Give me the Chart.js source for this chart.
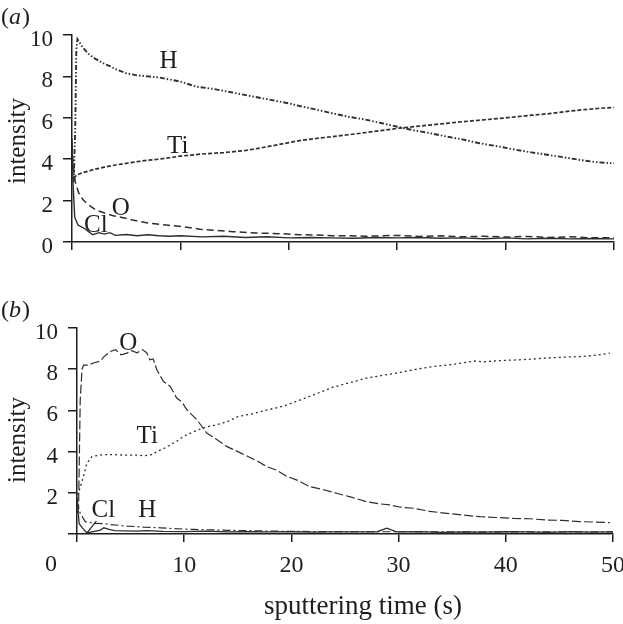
<!DOCTYPE html>
<html><head><meta charset="utf-8">
<script src="https://cdn.jsdelivr.net/npm/chart.js@4.4.1/dist/chart.umd.min.js"></script>
<style>
html,body{margin:0;padding:0;background:#fff;width:623px;height:624px;overflow:hidden}
#wa{position:absolute;left:0;top:0;width:623px;height:270px}
#wb{position:absolute;left:0;top:270px;width:623px;height:354px}
</style></head><body>
<div id="wa"><canvas id="ca" width="623" height="270"></canvas></div>
<div id="wb"><canvas id="cb" width="623" height="354"></canvas></div>
<script>
// ---------- Data ----------
const xTicks = [0, 10, 20, 30, 40, 50];
const yTicks = [0, 2, 4, 6, 8, 10];
const xTitle = 'sputtering time (s)';
const yTitle = 'intensity';

// Panel (a)
const aH_x = [0.15,0.3,0.4,0.5,1,1.5,2,3,3.5,4,5,6,7,8,9,10,11.5,13,15,16.5,18,20,21,22.5,24,25.5,27,28.5,30,31.5,33,34.5,36,37.5,39.5,41,42.5,44,45.5,47,48.5,50];
const aH_y = [2.9,5.5,9.3,9.8,9.4,9.1,8.9,8.6,8.5,8.35,8.15,8.05,8.0,7.95,7.85,7.75,7.5,7.4,7.2,7.05,6.9,6.7,6.57,6.4,6.22,6.05,5.92,5.75,5.57,5.4,5.26,5.1,4.96,4.78,4.6,4.45,4.32,4.2,4.08,3.95,3.85,3.8];
const aTi_x = [0.1,0.5,1,2,3,4,5,6,7,8,9,10,12,14,16,18,20,21,22.5,24,25.5,27,28.5,30,31.5,33,34.5,36,37.5,39.5,41,42.5,44,45.5,47,48.5,50];
const aTi_y = [3.1,3.25,3.35,3.5,3.62,3.72,3.8,3.88,3.95,4.0,4.07,4.15,4.25,4.32,4.42,4.6,4.8,4.9,5.0,5.09,5.18,5.28,5.38,5.49,5.57,5.65,5.73,5.81,5.88,5.97,6.05,6.13,6.2,6.3,6.38,6.45,6.5];
const aO_x = [0.05,0.15,0.3,0.6,1.0,1.5,2.2,3,3.8,4.5,5.6,7,8.7,10.2,11.8,13.3,14.8,16.4,17.9,19.5,21,22.5,24,25.6,27,28.7,30,32,34,36,38,40,42,44,46,48,50];
const aO_y = [4.2,3.6,2.9,2.4,2.05,1.8,1.55,1.4,1.27,1.2,1.06,0.92,0.82,0.74,0.62,0.56,0.5,0.45,0.42,0.4,0.35,0.34,0.3,0.3,0.28,0.3,0.32,0.27,0.3,0.25,0.28,0.24,0.27,0.22,0.25,0.2,0.2];
const aCl_x = [0,0.1,0.25,0.55,1,1.3,1.9,2.5,3,3.5,4,5,6,7,8,9,10,12,14,16,18,20,22,24,26,28,30,32,34,36,38,40,42,44,46,48,50];
const aCl_y = [5.0,2.8,1.2,0.82,0.7,0.6,0.35,0.45,0.38,0.45,0.32,0.36,0.3,0.35,0.3,0.28,0.3,0.25,0.28,0.22,0.25,0.2,0.22,0.2,0.18,0.22,0.2,0.22,0.18,0.2,0.16,0.2,0.15,0.18,0.15,0.17,0.15];

// Panel (b)
const bO_x = [0,0.15,0.3,0.47,0.62,1,1.55,2.2,2.5,3.1,3.6,4.1,4.66,5.1,5.6,6.1,6.5,6.8,7.1,7.45,8.07,8.7,9.3,9.8,10.25,11.2,12.1,13,14,15,15.8,16.8,17.7,18.6,19.6,20.6,21.7,23,24.2,25.5,27,28.3,29.2,30.2,31.4,32.9,34.5,36,37.6,39.1,40.7,42.2,43.8,45.3,46.9,48.3,49.7];
const bO_y = [1.0,1.33,6.5,8.0,8.2,8.2,8.3,8.4,8.6,8.86,8.95,8.7,8.78,8.9,8.8,8.95,8.8,8.46,8.5,7.97,7.4,7.16,6.6,6.4,6.03,5.54,4.9,4.6,4.24,4.0,3.8,3.55,3.27,3.1,2.79,2.6,2.3,2.15,1.98,1.8,1.57,1.46,1.41,1.3,1.25,1.1,1.0,0.92,0.84,0.8,0.76,0.74,0.68,0.66,0.6,0.58,0.55];
const bTi_x = [0,0.15,0.6,0.93,1.4,2,2.5,3.5,4.5,5.5,6.2,7,7.45,8.1,8.7,9.3,9.9,10.6,11.3,12.1,13,14,15,16.5,18,19.5,20.8,22.3,23.9,25.5,27,28.5,30.1,31.7,33.2,34.8,36.3,37.1,37.9,39.5,41,42.5,44,45.7,47.2,48.5,49.7];
const bTi_y = [1.9,2.0,2.8,3.44,3.76,3.82,3.85,3.85,3.83,3.83,3.8,3.85,4.0,4.15,4.33,4.5,4.73,4.9,5.06,5.2,5.3,5.45,5.7,5.85,6.05,6.25,6.5,6.8,7.13,7.35,7.57,7.7,7.84,8.0,8.13,8.22,8.33,8.4,8.36,8.42,8.45,8.49,8.55,8.59,8.62,8.68,8.78];
const bH_x = [0,0.3,0.77,1.55,2.5,3.1,4,4.7,5.5,6.2,7,7.8,9,10.9,12.5,14,16,18,20,22,25,28,31,34,37,40,43,46,50];
const bH_y = [1.6,1.0,0.6,0.52,0.5,0.46,0.42,0.38,0.36,0.33,0.32,0.3,0.26,0.22,0.2,0.18,0.16,0.14,0.13,0.12,0.12,0.11,0.11,0.1,0.1,0.1,0.1,0.1,0.1];
const bCl_x = [0,0.2,0.5,0.93,1.5,2.2,2.5,3,3.5,4.5,5.5,6.5,8,10,12,14,16,18,20,22,24,26,28,28.9,29.8,32,34,36,38,40,42,44,46,48,50];
const bCl_y = [1.8,0.5,0.3,0.05,0.12,0.19,0.3,0.22,0.16,0.15,0.14,0.16,0.13,0.12,0.14,0.1,0.12,0.1,0.11,0.09,0.1,0.1,0.11,0.28,0.1,0.12,0.08,0.1,0.09,0.11,0.1,0.08,0.12,0.09,0.1];

// Curve label anchors (data coordinates)
const aLabels = [['H', 8.9, 8.74], ['Ti', 9.75, 4.64], ['O', 4.5, 1.64], ['Cl', 2.2, 0.82]];
const bLabels = [['O', 4.78, 9.24], ['Ti', 6.55, 4.72], ['Cl', 2.45, 1.12], ['H', 6.55, 1.12]];
// leader line from the "Cl" label to its curve in panel (b) (data coordinates)
const bLeader = [[0.93, 0.05], [1.8, 0.62]];

// ---------- Rendering ----------
const SERIF = '"Liberation Serif", "Times New Roman", Times, serif';
const INK = '#1e1e1e';
const LINE = '#2e2e2e';

function pts(xs, ys) { return xs.map((x, i) => ({ x: x, y: ys[i] })); }
function ds(xs, ys, dash, w) {
  return { data: pts(xs, ys), borderColor: LINE, borderWidth: w, borderDash: dash,
           pointRadius: 0, fill: false, tension: 0, borderCapStyle: 'butt', borderJoinStyle: 'miter' };
}

function textPlugin(cfg) {
  return {
    id: 'textLayer',
    afterDraw(chart) {
      const ctx = chart.ctx, sx = chart.scales.x, sy = chart.scales.y;
      ctx.save();
      ctx.fillStyle = INK;
      ctx.strokeStyle = INK;
      if (cfg.leader) {
        ctx.lineWidth = 1.2;
        ctx.beginPath();
        ctx.moveTo(sx.getPixelForValue(cfg.leader[0][0]), sy.getPixelForValue(cfg.leader[0][1]));
        ctx.lineTo(sx.getPixelForValue(cfg.leader[1][0]), sy.getPixelForValue(cfg.leader[1][1]));
        ctx.stroke();
      }
      // curve labels
      ctx.font = '25px ' + SERIF;
      ctx.textAlign = 'center'; ctx.textBaseline = 'middle';
      cfg.labels.forEach(l => ctx.fillText(l[0], sx.getPixelForValue(l[1]), sy.getPixelForValue(l[2])));
      // panel letter "(a)" / "(b)"
      ctx.textAlign = 'left';
      ctx.font = '24px ' + SERIF;
      let x = 1;
      ctx.fillText('(', x, cfg.panelY); x += ctx.measureText('(').width;
      ctx.font = 'italic 24px ' + SERIF;
      ctx.fillText(cfg.panel, x, cfg.panelY); x += ctx.measureText(cfg.panel).width + 1;
      ctx.font = '24px ' + SERIF;
      ctx.fillText(')', x, cfg.panelY);
      // y title
      ctx.save();
      ctx.translate(18, cfg.yTitleY);
      ctx.rotate(-Math.PI / 2);
      ctx.textAlign = 'center';
      ctx.font = '25px ' + SERIF;
      ctx.fillText(yTitle, 0, 0);
      ctx.restore();
      // x title and the offset "0" label (panel b only)
      if (cfg.xTitle) {
        ctx.textAlign = 'center';
        ctx.font = '27px ' + SERIF;
        ctx.fillText(xTitle, 363, cfg.xTitleY);
        ctx.font = '24px ' + SERIF;
        ctx.fillText(String(xTicks[0]), sx.getPixelForValue(xTicks[0]) - 26, cfg.zeroY);
      }
      ctx.restore();
    }
  };
}

function makeChart(id, datasets, P) {
  return new Chart(document.getElementById(id), {
    type: 'line',
    data: { datasets: datasets },
    options: {
      responsive: false, animation: false, devicePixelRatio: 1,
      layout: { padding: { top: P.top, right: P.right, left: 0, bottom: 0 } },
      plugins: { legend: { display: false }, tooltip: { enabled: false } },
      scales: {
        x: {
          type: 'linear', min: xTicks[0], max: xTicks[xTicks.length - 1],
          afterBuildTicks: s => { s.ticks = xTicks.map(v => ({ value: v })); },
          ticks: { color: INK, font: { family: SERIF, size: 24 }, padding: 9, maxRotation: 0, autoSkip: false,
                   callback: v => (P.xLabels && v !== 0) ? String(v) : '' },
          grid: { drawOnChartArea: false, drawTicks: true, tickLength: 8, color: INK, lineWidth: 1.5 },
          border: { display: true, color: INK, width: 1.5 },
          afterFit: s => { s.height = P.xh; s.paddingLeft = 0; s.paddingRight = 0; }
        },
        y: {
          type: 'linear', min: yTicks[0], max: yTicks[yTicks.length - 1],
          afterBuildTicks: s => { s.ticks = yTicks.map(v => ({ value: v })); },
          ticks: { color: INK, font: { family: SERIF, size: 23 }, padding: 10, labelOffset: 5,
                   callback: v => (P.yZero || v !== 0) ? String(v) : '' },
          grid: { drawOnChartArea: false, drawTicks: true, tickLength: 9, color: INK, lineWidth: 1.5 },
          border: { display: true, color: INK, width: 1.5 },
          afterFit: s => { s.width = P.yw; s.paddingTop = 0; s.paddingBottom = 0; }
        }
      }
    },
    plugins: [textPlugin(P.text)]
  });
}

makeChart('ca', [
  ds(aH_x, aH_y, [5, 2, 1.5, 2, 1.5, 2], 1.9),
  ds(aTi_x, aTi_y, [4, 2], 1.7),
  ds(aO_x, aO_y, [7, 4], 1.5),
  ds(aCl_x, aCl_y, [], 1.4)
], { top: 35, right: 9, xh: 28, yw: 72, xLabels: false, yZero: true,
     text: { labels: aLabels, panel: 'a', panelY: 18, yTitleY: 141 } });

makeChart('cb', [
  ds(bO_x, bO_y, [9, 3], 1.2),
  ds(bTi_x, bTi_y, [2, 3], 1.3),
  ds(bH_x, bH_y, [8, 3, 2, 3], 1.2),
  ds(bCl_x, bCl_y, [], 1.3)
], { top: 58, right: 10, xh: 90, yw: 77, xLabels: true, yZero: false,
     text: { labels: bLabels, panel: 'b', panelY: 41, yTitleY: 170, xTitle: true, xTitleY: 337, zeroY: 295, leader: bLeader } });
</script>
</body></html>
